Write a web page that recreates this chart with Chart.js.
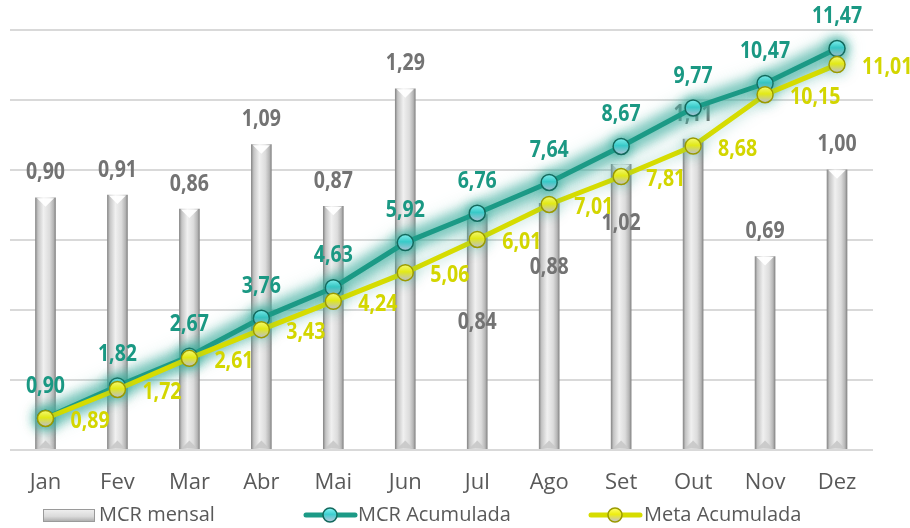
<!DOCTYPE html>
<html><head><meta charset="utf-8">
<script src="https://cdn.jsdelivr.net/npm/chart.js@4/dist/chart.umd.min.js"></script>
<style>html,body{margin:0;padding:0;background:#fff}#wrap{width:910px;height:528px;position:relative}</style>
</head><body><div id="wrap"><canvas id="c" width="910" height="528"></canvas></div>
<script>
const categories = ['Jan','Fev','Mar','Abr','Mai','Jun','Jul','Ago','Set','Out','Nov','Dez'];
const mcrMensal = [0.90,0.91,0.86,1.09,0.87,1.29,0.84,0.88,1.02,1.11,0.69,1.00];
const mcrAcumulada = [0.90,1.82,2.67,3.76,4.63,5.92,6.76,7.64,8.67,9.77,10.47,11.47];
const metaAcumulada = [0.89,1.72,2.61,3.43,4.24,5.06,6.01,7.01,7.81,8.68,10.15,11.01];
const seriesNames = ['MCR mensal','MCR Acumulada','Meta Acumulada'];

// style
const BAR_W = 20;
const barLabelShift = [0,0,0,0,0,0,133,89,84,0,0,0];
const TEAL='#1c9a86', TEAL_TXT='#1a9883', YEL='#d6dc00', YEL_TXT='#d3d600', GREY_TXT='#737373', AXIS_TXT='#595959';
const LABEL_FONT = "bold 23px 'Open Sans', sans-serif";
const LABEL_SX = 0.85;
const FONT_FAMILY = "'Open Sans', sans-serif";

function fmt(v){ return v.toFixed(2).replace('.', ','); }

function narrowText(c, text, x, y, align){
  c.save();
  c.translate(x, y);
  c.scale(LABEL_SX, 1);
  c.textAlign = align;
  c.fillText(text, 0, 0);
  c.restore();
}

function barGradient(ctx2d, cx){
  const g = ctx2d.createLinearGradient(cx-BAR_W/2,0,cx+BAR_W/2,0);
  g.addColorStop(0,'#8a8a8a'); g.addColorStop(0.12,'#c4c4c4'); g.addColorStop(0.4,'#f0f0f0');
  g.addColorStop(0.7,'#dcdcdc'); g.addColorStop(0.9,'#b5b5b5'); g.addColorStop(1,'#858585');
  return g;
}
function sphereGradient(ctx2d, y, r, kind){
  const g = ctx2d.createLinearGradient(0,y-r,0,y+r);
  if(kind==='teal'){ g.addColorStop(0,'#8af7f7'); g.addColorStop(0.45,'#3ccfd0'); g.addColorStop(1,'#c0c6dc'); }
  else { g.addColorStop(0,'#ffff70'); g.addColorStop(0.45,'#eeee10'); g.addColorStop(1,'#c4c0d8'); }
  return g;
}
function drawSphere(ctx2d,x,y,r,kind){
  ctx2d.beginPath(); ctx2d.arc(x,y,r,0,Math.PI*2);
  ctx2d.fillStyle = sphereGradient(ctx2d,y,r,kind); ctx2d.fill();
  ctx2d.lineWidth=1.5; ctx2d.strokeStyle = kind==='teal' ? '#13695d' : '#9a9a00'; ctx2d.stroke();
}

const glowPlugin = {
  id:'glow',
  beforeDatasetDraw(chart,args){
    const ds=chart.data.datasets[args.index];
    if(!ds.glowColor) return;
    const c=chart.ctx;
    if(ds.haloColor){
      const pts=args.meta.data;
      c.save();
      c.strokeStyle=ds.haloColor; c.lineWidth=ds.haloWidth; c.lineJoin='round'; c.lineCap='round';
      c.shadowColor=ds.haloColor; c.shadowBlur=ds.haloBlur;
      c.filter='blur(5px)';
      c.beginPath();
      pts.forEach((p,i)=>{ if(i===0) c.moveTo(p.x,p.y); else c.lineTo(p.x,p.y); });
      c.stroke();
      c.restore();
    }
    c.save(); c.shadowColor=ds.glowColor; c.shadowBlur=ds.glowBlur;
  },
  afterDatasetDraw(chart,args){ const ds=chart.data.datasets[args.index]; if(ds.glowColor){ chart.ctx.restore(); } }
};

const labelPlugin = {
  id:'valueLabels',
  afterDatasetDraw(chart,args){
    if(args.meta.type!=='bar') return;
    const c=chart.ctx; c.save();
    args.meta.data.forEach((bar,i)=>{
      const l=bar.x-BAR_W/2, r=bar.x+BAR_W/2, t=bar.y, b=bar.base;
      c.beginPath(); c.moveTo(l+1.5,t+0.5); c.lineTo(r-1.5,t+0.5); c.lineTo(bar.x,t+9); c.closePath();
      c.fillStyle='rgba(255,255,255,0.95)'; c.fill();
      c.beginPath(); c.moveTo(l+2,b); c.lineTo(r-2,b); c.lineTo(bar.x,b-8); c.closePath();
      c.fillStyle='rgba(200,200,200,0.9)'; c.fill();
    });
    c.font=LABEL_FONT; c.fillStyle=GREY_TXT; c.textBaseline='middle';
    args.meta.data.forEach((bar,i)=>{
      narrowText(c, fmt(mcrMensal[i]), bar.x, bar.y-25+barLabelShift[i], 'center');
    });
    c.restore();
  },
  afterDatasetsDraw(chart){
    const c=chart.ctx; c.save(); c.font=LABEL_FONT; c.textBaseline='middle';
    const m1=chart.getDatasetMeta(1), m2=chart.getDatasetMeta(2);
    c.fillStyle=YEL_TXT;
    m2.data.forEach((p,i)=>narrowText(c, fmt(metaAcumulada[i]), p.x+25, p.y+3, 'left'));
    c.fillStyle=TEAL_TXT;
    m1.data.forEach((p,i)=>narrowText(c, fmt(mcrAcumulada[i]), p.x, p.y-32, 'center'));
    c.restore();
  }
};

const legendPlugin = {
  id:'customLegend',
  afterDraw(chart){
    const c=chart.ctx; c.save();
    const y=515;
    let g=c.createLinearGradient(0,y-7,0,y+7);
    g.addColorStop(0,'#f4f4f4'); g.addColorStop(0.6,'#dadada'); g.addColorStop(1,'#a8a8a8');
    c.fillStyle=g; c.fillRect(43,y-6,52,13);
    c.strokeStyle='#9a9a9a'; c.lineWidth=1; c.strokeRect(43.5,y-5.5,51,12);
    [[303,TEAL,'teal'],[588,YEL,'yel']].forEach(([x0,col,kind])=>{
      c.strokeStyle=col; c.lineWidth=5; c.lineCap='round';
      c.beginPath(); c.moveTo(x0+3,y); c.lineTo(x0+52,y); c.stroke();
      drawSphere(c,x0+27,y,7,kind);
    });
    c.font="20px "+FONT_FAMILY; c.fillStyle=AXIS_TXT; c.textBaseline='middle'; c.textAlign='left';
    c.fillText(seriesNames[0],99,y);
    c.fillText(seriesNames[1],358,y);
    c.fillText(seriesNames[2],644,y);
    c.restore();
  }
};

function barBg(ctx){
  const xs=ctx.chart.scales.x;
  if(!xs||ctx.type!=='data') return '#d8d8d8';
  const cx=xs.getPixelForValue(ctx.dataIndex);
  if(!Number.isFinite(cx)) return '#d8d8d8';
  return barGradient(ctx.chart.ctx, cx);
}
function pointBg(kind, fallback){
  return (ctx)=>{
    const ys=ctx.chart.scales.y2;
    if(!ys||ctx.type!=='data') return fallback;
    const py=ys.getPixelForValue(ctx.raw);
    if(!Number.isFinite(py)) return fallback;
    return sphereGradient(ctx.chart.ctx, py, 8, kind);
  };
}

new Chart(document.getElementById('c'), {
  data:{
    labels:categories,
    datasets:[
      { type:'bar', label:seriesNames[0], data:mcrMensal, yAxisID:'y', order:3, barThickness:BAR_W,
        backgroundColor:barBg, borderWidth:0 },
      { type:'line', label:seriesNames[1], data:mcrAcumulada, yAxisID:'y2', order:2,
        borderColor:TEAL, borderWidth:5, tension:0, pointRadius:8, pointHoverRadius:8, pointBorderWidth:1.5, pointBorderColor:'#13695d',
        pointBackgroundColor:pointBg('teal','#3ccfd0'),
        glowColor:'rgba(30,165,145,0.8)', glowBlur:12,
        haloColor:'rgba(90,185,172,0.45)', haloWidth:24, haloBlur:16 },
      { type:'line', label:seriesNames[2], data:metaAcumulada, yAxisID:'y2', order:1,
        borderColor:YEL, borderWidth:5, tension:0, pointRadius:8, pointHoverRadius:8, pointBorderWidth:1.5, pointBorderColor:'#9a9a00',
        pointBackgroundColor:pointBg('yel','#eeee10'),
        glowColor:'rgba(60,170,150,0.5)', glowBlur:14 }
    ]
  },
  options:{
    responsive:false, animation:false, events:[],
    layout:{ padding:{ top:30, left:9, right:37, bottom:12 } },
    plugins:{ legend:{display:false}, tooltip:{enabled:false} },
    scales:{
      x:{ grid:{display:false, drawTicks:false}, border:{display:false},
          ticks:{ color:AXIS_TXT, padding:20, font:{ family:FONT_FAMILY, size:22 } } },
      y:{ position:'left', min:0, max:1.5, ticks:{ stepSize:0.25, display:false },
          grid:{ color:'#d9d9d9', lineWidth:2, drawTicks:false }, border:{display:false} },
      y2:{ position:'right', min:0, max:12, display:false }
    }
  },
  plugins:[glowPlugin, labelPlugin, legendPlugin]
});
</script></body></html>
